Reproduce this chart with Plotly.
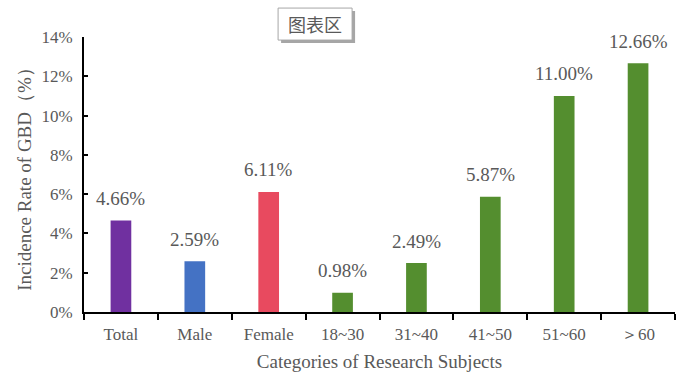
import plotly.graph_objects as go

categories = ["Total", "Male", "Female", "18~30", "31~40", "41~50", "51~60", "＞60"]
rates = [4.66, 2.59, 6.11, 0.98, 2.49, 5.87, 11.00, 12.66]
bar_colors = ["#7030A0", "#4472C4", "#E84A5F", "#548E2F", "#548E2F", "#548E2F", "#548E2F", "#548E2F"]
y_ticks = [0, 2, 4, 6, 8, 10, 12, 14]
y_tick_labels = [f"{v}%" for v in y_ticks]

serif = "Liberation Serif"
gray = "#595959"

fig = go.Figure()
fig.add_trace(go.Bar(x=categories, y=rates, marker=dict(color=bar_colors, line=dict(width=0)),
                     hoverinfo="skip"))

for c, v in zip(categories, rates):
    fig.add_annotation(x=c, y=v, text=f"{v:.2f}%", showarrow=False, yanchor="middle", yshift=22,
                       font=dict(family=serif, size=19, color=gray))

# "图表区" label box with drop shadow
bx, by = 0.391, 1.047
fig.add_shape(type="rect", xref="paper", yref="paper", xsizemode="pixel", ysizemode="pixel",
              xanchor=bx, yanchor=by, x0=-34, x1=40, y0=-19, y1=13,
              fillcolor="#A6A6A6", line=dict(width=0), layer="above")
fig.add_shape(type="rect", xref="paper", yref="paper", xsizemode="pixel", ysizemode="pixel",
              xanchor=bx, yanchor=by, x0=-37, x1=37, y0=-16, y1=16,
              fillcolor="white", line=dict(color="#A6A6A6", width=1), layer="above")
fig.add_annotation(xref="paper", yref="paper", x=bx, y=by, xanchor="center", yanchor="middle",
                   text="图表区", showarrow=False,
                   font=dict(family="Noto Sans CJK SC", size=18, color="#595959"))

fig.update_layout(
    width=685, height=387,
    margin=dict(l=84, r=10, t=37, b=75),
    plot_bgcolor="white", paper_bgcolor="white",
    bargap=0.72, showlegend=False,
    xaxis=dict(type="category", showline=True, linecolor="black", linewidth=2, automargin=False,
               ticks="outside", ticklen=6, tickwidth=1.5, tickcolor="black", tickson="boundaries",
               tickfont=dict(family=serif, size=17, color=gray), ticklabelstandoff=6,
               title=dict(text="Categories of Research Subjects", standoff=11,
                          font=dict(family=serif, size=19, color=gray))),
    yaxis=dict(range=[0, 14], tickvals=y_ticks, ticktext=y_tick_labels, showgrid=False, zeroline=False,
               showline=True, linecolor="black", linewidth=2, automargin=False,
               ticks="inside", ticklen=4, tickwidth=1.5, tickcolor="black",
               tickfont=dict(family=serif, size=17, color=gray), ticklabelstandoff=6,
               title=dict(text="Incidence Rate of GBD（%）", standoff=5,
                          font=dict(family=serif, size=19, color=gray))),
)

fig.write_html("out.html", config={"displayModeBar": False},
               post_script="document.body.style.margin='0';document.body.style.overflow='hidden';")
